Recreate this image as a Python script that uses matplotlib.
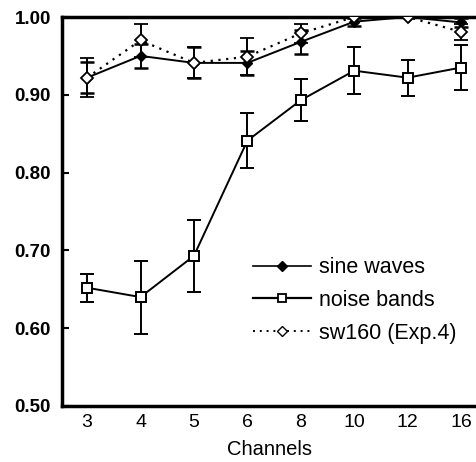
import matplotlib
matplotlib.use("Agg")
import matplotlib.pyplot as plt
from matplotlib.lines import Line2D
import numpy as np

plt.rcParams['font.family'] = ['Liberation Sans', 'DejaVu Sans']

channels = ["3", "4", "5", "6", "8", "10", "12", "16"]
sine_waves = [0.922, 0.950, 0.941, 0.941, 0.968, 0.994, 1.000, 0.993]
sine_err = [0.020, 0.015, 0.020, 0.015, 0.015, 0.005, 0.0, 0.006]
noise_bands = [0.652, 0.640, 0.693, 0.841, 0.893, 0.931, 0.922, 0.935]
noise_err = [0.018, 0.047, 0.046, 0.035, 0.027, 0.030, 0.023, 0.029]
sw160 = [0.922, 0.970, 0.941, 0.949, 0.979, 1.000, 1.000, 0.981]
sw160_err = [0.025, 0.021, 0.020, 0.024, 0.012, 0.0, 0.0, 0.010]

fig = plt.figure(figsize=(4.77, 4.62), dpi=100)
ax = fig.add_axes([62/477, 1-406/462, 1-62/477, (406-17)/462])
x = np.arange(len(channels))

ax.errorbar(x, noise_bands, yerr=noise_err, color='black', lw=1.4, marker='s',
            ms=6.5, mfc='white', mec='black', mew=1.4, capsize=5, capthick=1.8,
            elinewidth=1.4, zorder=3)
ax.errorbar(x, sine_waves, yerr=sine_err, color='black', lw=1.4, marker='D',
            ms=5.5, mfc='black', mec='black', capsize=5, capthick=1.8,
            elinewidth=1.4, zorder=4)
ax.errorbar(x, sw160, yerr=sw160_err, color='black', lw=1.6, ls=(0, (1, 2.5)),
            marker='D', ms=6, mfc='white', mec='black', mew=1.3, capsize=5,
            capthick=1.8, elinewidth=1.4, zorder=5)

ax.set_xlim(-0.47, 7.3)
ax.set_ylim(0.5, 1.0)
ax.set_yticks([0.5, 0.6, 0.7, 0.8, 0.9, 1.0])
ax.set_yticklabels(["0.50", "0.60", "0.70", "0.80", "0.90", "1.00"],
                   fontsize=13.5, fontweight='bold')
ax.set_xticks(x)
ax.set_xticklabels(channels, fontsize=14)
ax.tick_params(axis='y', direction='in', length=5, width=1.5, pad=8)
ax.tick_params(axis='x', length=0, pad=6)
ax.set_xlabel("Channels", fontsize=14.5, labelpad=6)

for s in ['left', 'bottom', 'top']:
    ax.spines[s].set_linewidth(2.5)
ax.spines['right'].set_visible(False)

handles = [
    Line2D([], [], color='black', lw=1.2, marker='D', ms=5, mfc='black'),
    Line2D([], [], color='black', lw=1.6, marker='s', ms=6, mfc='white', mew=1.3),
    Line2D([], [], color='black', lw=1.4, ls=(0, (1, 2.5)), marker='D', ms=5,
           mfc='white', mew=1.0),
]
labels = ["sine waves", "noise bands", "sw160 (Exp.4)"]
ax.legend(handles, labels, loc='upper left', bbox_to_anchor=(0.44, 0.405),
          frameon=False, fontsize=15.5, handlelength=2.7, handletextpad=0.35,
          labelspacing=0.55, borderaxespad=0)

fig.savefig("out.png", dpi=100)
